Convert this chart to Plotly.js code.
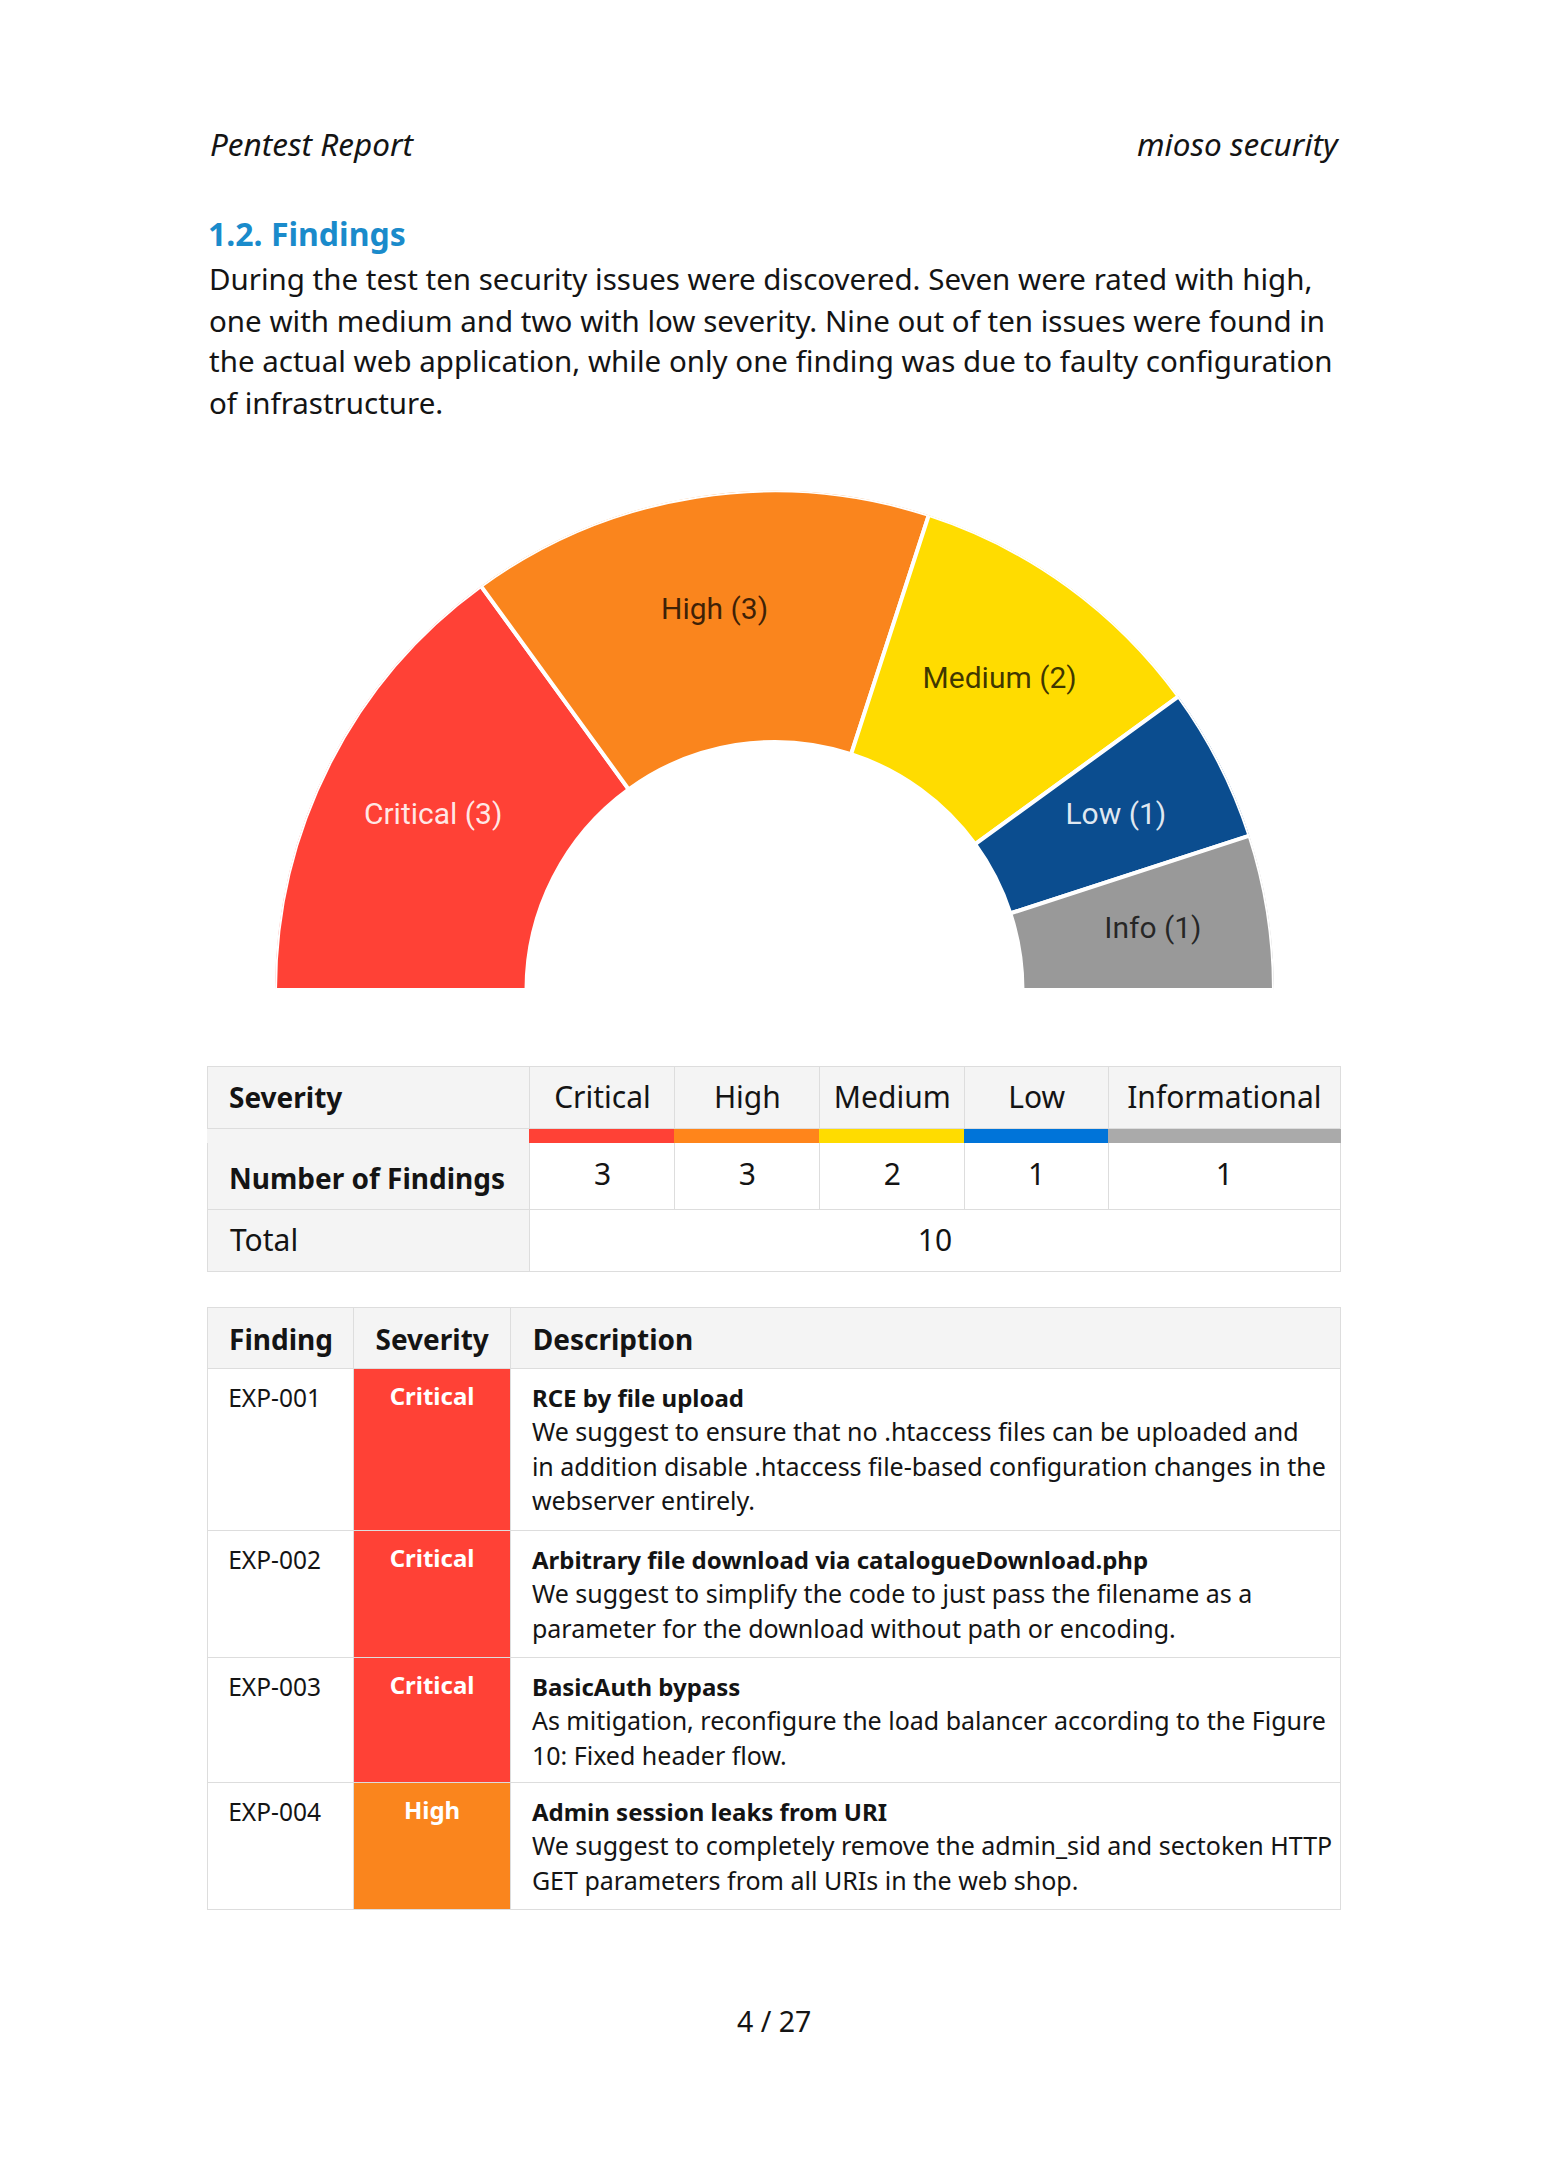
<!DOCTYPE html>
<html>
<head>
<meta charset="utf-8">
<script src="https://cdn.plot.ly/plotly-3.0.1.min.js"></script>
<style>
  html, body { margin: 0; padding: 0; background: #ffffff; }
  #chart { width: 1549px; height: 2165px; }
</style>
</head>
<body>
<div id="chart"></div>
<script>
// ---------------- DATA ----------------
const chartLabels = ['Critical', 'High', 'Medium', 'Low', 'Info'];
const tableLabels = ['Critical', 'High', 'Medium', 'Low', 'Informational'];
const findingCounts = [3, 3, 2, 1, 1];

const findingIds = ['EXP-001', 'EXP-002', 'EXP-003', 'EXP-004'];
const findingSeverities = ['Critical', 'Critical', 'Critical', 'High'];
const findingTitles = [
  'RCE by file upload',
  'Arbitrary file download via catalogueDownload.php',
  'BasicAuth bypass',
  'Admin session leaks from URI'
];
const findingDescLines = [
  ['We suggest to ensure that no .htaccess files can be uploaded and',
   'in addition disable .htaccess file-based configuration changes in the',
   'webserver entirely.'],
  ['We suggest to simplify the code to just pass the filename as a',
   'parameter for the download without path or encoding.'],
  ['As mitigation, reconfigure the load balancer according to the Figure',
   '10: Fixed header flow.'],
  ['We suggest to completely remove the admin_sid and sectoken HTTP',
   'GET parameters from all URIs in the web shop.']
];

const headerLeft = 'Pentest Report';
const headerRight = 'mioso security';
const sectionTitle = '1.2. Findings';
const paragraphLines = [
  'During the test ten security issues were discovered. Seven were rated with high,',
  'one with medium and two with low severity. Nine out of ten issues were found in',
  'the actual web application, while only one finding was due to faulty configuration',
  'of infrastructure.'
];
const pageLabel = '4 / 27';

// ---------------- STYLE ----------------
const W = 1549, H = 2165;
const px = x => x / W;
const py = y => 1 - y / H;

const chartColors = ['#FF4136', '#FA851D', '#FFDC00', '#0B4D8F', '#999999'];
const chartLabelColors = ['rgba(255,255,255,0.88)', 'rgba(0,0,0,0.75)', 'rgba(0,0,0,0.75)', 'rgba(255,255,255,0.88)', 'rgba(0,0,0,0.75)'];
const stripColors = ['#FF4136', '#FF851B', '#FFDC00', '#0074D9', '#AAAAAA'];
const severityFill = { Critical: '#FF4136', High: '#FA851D' };

const TXT = '#141414';
const T_LINE = '#dddddd';
const T_HEAD = '#f4f4f4';
const CLEAR = 'rgba(0,0,0,0)';
const FONT = 'Noto Sans, Liberation Sans, Arial, sans-serif';
const IND = '\u2002';
const EMPTY_HEADER = 16;

const RING_IN = 0.4965, RING_OUT = 1.0, LABEL_R = 0.767;

const sized = (s, t) => `<span style="font-size:${s}px">${t}</span>`;

// ---------------- TRACES ----------------
const traces = [];
const total = findingCounts.reduce((a, b) => a + b, 0);
const unit = 180 / total;
const thetas = [], widths = [];
let cum = 0;
findingCounts.forEach(v => { thetas.push((cum + v / 2) * unit); widths.push(v * unit); cum += v; });

traces.push({
  type: 'barpolar', subplot: 'polar',
  theta: thetas, width: widths,
  r: findingCounts.map(() => RING_OUT - RING_IN), base: RING_IN,
  marker: { color: chartColors, line: { color: '#ffffff', width: 4 } },
  hoverinfo: 'skip'
});
traces.push({
  type: 'scatterpolar', subplot: 'polar', mode: 'text',
  theta: thetas, r: findingCounts.map(() => LABEL_R),
  text: chartLabels.map((s, i) => `${s} (${findingCounts[i]})`),
  textposition: 'middle center',
  textfont: { family: 'Roboto, sans-serif', size: 30, color: chartLabelColors },
  hoverinfo: 'skip', cliponaxis: false
});

const emptyHeader = { values: [], height: 1, line: { width: 0, color: CLEAR }, fill: { color: CLEAR } };

// background cells (fills and borders) of one row
function rectTable(x0, x1, y0, y1, colWidths, fills, lines) {
  return {
    type: 'table',
    domain: { x: [px(x0), px(x1)], y: [py(y1 + 3), py(y0 - EMPTY_HEADER)] },
    columnwidth: colWidths,
    header: emptyHeader,
    cells: {
      values: colWidths.map(() => ['']),
      height: y1 - y0,
      fill: { color: fills },
      line: { color: lines || T_LINE, width: 1 },
      font: { size: 10, color: CLEAR }
    },
    hoverinfo: 'skip'
  };
}
// text of one row (or part of a row), shifted down by dy so that it sits where the reference places it
function textTable(x0, x1, y0, y1, dy, colWidths, values, o) {
  return {
    type: 'table',
    domain: { x: [px(x0), px(x1)], y: [py(y1 + dy + 40), py(y0 - EMPTY_HEADER + dy)] },
    columnwidth: colWidths,
    header: emptyHeader,
    cells: {
      values: values.map(v => [v]),
      height: 10,
      align: o.align,
      fill: { color: CLEAR },
      line: { color: CLEAR, width: 0 },
      font: { family: FONT, size: o.size, color: o.color || TXT }
    },
    hoverinfo: 'skip'
  };
}

const rects = [], texts = [];

// Table 1
const TX0 = 207, TX1 = 1340.5;
const t1Widths = [323, 145, 145, 145, 144, 231.5];
const TXC = TX0 + t1Widths[0];
const valWidths = t1Widths.slice(1);
const centers = tableLabels.map(() => 'center');
const whites = tableLabels.map(() => '#ffffff');
const heads = tableLabels.map(() => T_HEAD);

// values row
rects.push(rectTable(TX0, TX1, 1142, 1209, t1Widths, [T_HEAD].concat(whites)));
texts.push(textTable(TX0, TXC, 1142, 1209, 9, [t1Widths[0]],
  [IND + '<b>Number of Findings</b>'], { align: ['left'], size: 28 }));
texts.push(textTable(TXC, TX1, 1142, 1209, 12, valWidths,
  findingCounts.map(String), { align: centers, size: 30 }));
// colour strip
rects.push(rectTable(TX0, TX1, 1128, 1142, t1Widths, [T_HEAD].concat(stripColors), [T_HEAD].concat(stripColors)));
// header row
rects.push(rectTable(TX0, TX1, 1066, 1128, t1Widths, [T_HEAD].concat(heads)));
texts.push(textTable(TX0, TXC, 1066, 1128, 4, [t1Widths[0]],
  [IND + '<b>Severity</b>'], { align: ['left'], size: 28 }));
texts.push(textTable(TXC, TX1, 1066, 1128, 11, valWidths,
  tableLabels, { align: centers, size: 30 }));
// total row
rects.push(rectTable(TX0, TX1, 1209, 1271, [323, 810.5], [T_HEAD, '#ffffff']));
texts.push(textTable(TX0, TX1, 1209, 1271, 11, [323, 810.5],
  [IND + 'Total', String(total)],
  { align: ['left', 'center'], size: 30 }));

// Table 2
const t2Widths = [146.5, 157.3, 829.7];
const t2Rows = [1307, 1368, 1530, 1657, 1782, 1909];
rects.push(rectTable(TX0, TX1, t2Rows[0], t2Rows[1], t2Widths, [T_HEAD, T_HEAD, T_HEAD]));
texts.push(textTable(TX0, TX1, t2Rows[0], t2Rows[1], 5, t2Widths,
  [IND + '<b>Finding</b>', IND + '<b>Severity</b>', IND + '<b>Description</b>'],
  { align: ['left', 'left', 'left'], size: 28 }));
findingIds.forEach((id, i) => {
  const y0 = t2Rows[i + 1], y1 = t2Rows[i + 2];
  const desc = [IND + sized(24, '<b>' + findingTitles[i] + '</b>')]
    .concat(findingDescLines[i].map(l => IND + sized(25, l))).join('<br>');
  rects.push(rectTable(TX0, TX1, y0, y1, t2Widths, ['#ffffff', severityFill[findingSeverities[i]], '#ffffff']));
  texts.push(textTable(TX0, TX1, y0, y1, 3, t2Widths,
    [IND + sized(24.5, id) + '<br>', sized(24, '<b>' + findingSeverities[i] + '</b>') + '<br>', desc],
    { align: ['left', 'center', 'left'], color: [TXT, '#ffffff', TXT], size: 26.5 }));
});

const allTraces = traces.concat(rects, texts);

// ---------------- LAYOUT ----------------
const annotations = [
  { text: '<i>' + headerLeft + '</i>', x: px(208), y: py(144), xanchor: 'left', yanchor: 'middle',
    font: { family: FONT, size: 31.5, color: TXT } },
  { text: '<i>' + headerRight + '</i>', x: px(1342), y: py(144), xanchor: 'right', yanchor: 'middle',
    font: { family: FONT, size: 31.5, color: TXT } },
  { text: '<b>' + sectionTitle + '</b>', x: px(206), y: py(233), xanchor: 'left', yanchor: 'middle',
    font: { family: FONT, size: 32, color: '#1A8BCB' } },
  { text: pageLabel, x: px(774), y: py(2021), xanchor: 'center', yanchor: 'middle',
    font: { family: FONT, size: 28.5, color: TXT } }
];
paragraphLines.forEach((line, i) => {
  annotations.push({ text: line, x: px(207), y: py(279 + i * 41), xanchor: 'left', yanchor: 'middle',
    font: { family: FONT, size: 29.5, color: TXT } });
});
annotations.forEach(a => { a.xref = 'paper'; a.yref = 'paper'; a.showarrow = false; });

const layout = {
  width: W, height: H,
  margin: { l: 0, r: 0, t: 0, b: 0 },
  paper_bgcolor: '#ffffff', plot_bgcolor: '#ffffff',
  showlegend: false,
  polar: {
    domain: { x: [px(275), px(1274)], y: [py(990), py(490.5)] },
    sector: [0, 180], hole: 0, bgcolor: CLEAR,
    radialaxis: { visible: false, range: [0, 1] },
    angularaxis: { visible: false, rotation: 180, direction: 'clockwise' }
  },
  annotations: annotations
};

Plotly.newPlot('chart', allTraces, layout, { staticPlot: true, displayModeBar: false });
</script>
</body>
</html>
